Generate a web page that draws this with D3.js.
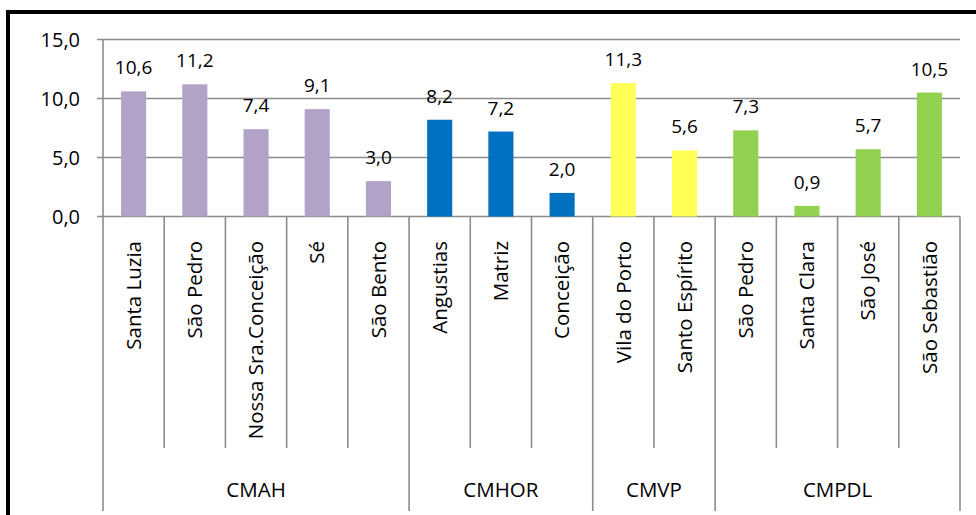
<!DOCTYPE html>
<html><head><meta charset="utf-8">
<script src="https://cdn.jsdelivr.net/npm/d3@7"></script>
<style>body{margin:0;background:#fff}svg{display:block}text{font-family:"Open Sans",sans-serif;fill:#000}</style>
</head><body>
<svg id="c" width="976" height="515"></svg>
<script>
const categories = ["Santa Luzia","São Pedro","Nossa Sra.Conceição","Sé","São Bento","Angustias","Matriz","Conceição","Vila do Porto","Santo Espírito","São Pedro","Santa Clara","São José","São Sebastião"];
const values = [10.6,11.2,7.4,9.1,3.0,8.2,7.2,2.0,11.3,5.6,7.3,0.9,5.7,10.5];
const groups = ["CMAH","CMHOR","CMVP","CMPDL"];
const groupSizes = [5,3,2,4];
const groupColors = ["#B3A2C7","#0070C0","#FFFF57","#92D050"];
const yTicks = [0,5,10,15];

const svg = d3.select("#c");
const L = 103, R = 960, T = 39.5, B = 216.5;
const fmt = v => d3.format(".1f")(v).replace(".", ",");
const grid = "#8c8c8c";

// frame
svg.append("rect").attr("x",8).attr("y",12).attr("width",1000).attr("height",600)
  .attr("fill","none").attr("stroke","#000").attr("stroke-width",4);

const idx = d3.range(categories.length);
const x = d3.scaleBand().domain(idx).range([L,R]).paddingInner(0.59).paddingOuter(0.295);
const xs = d3.scaleBand().domain(idx).range([L,R]);
const y = d3.scaleLinear().domain([0,15]).range([B,T]);

const groupOf = [];
groupSizes.forEach((n,g)=>{for(let i=0;i<n;i++) groupOf.push(g);});

// gridlines
svg.append("g").selectAll("line").data(yTicks).join("line")
  .attr("x1",L-6).attr("x2",R).attr("y1",d=>y(d)).attr("y2",d=>y(d))
  .attr("stroke",grid).attr("stroke-width",1.6);
svg.append("line").attr("x1",L).attr("x2",L).attr("y1",T).attr("y2",B).attr("stroke",grid).attr("stroke-width",1.6);
svg.append("g").selectAll("text").data(yTicks).join("text")
  .attr("x",80).attr("y",d=>y(d)).attr("dy","0.35em").attr("text-anchor","end")
  .attr("font-size",20).text(fmt);

// bars
svg.append("g").selectAll("rect").data(idx).join("rect")
  .attr("x",i=>x(i)).attr("width",x.bandwidth())
  .attr("y",i=>y(values[i])).attr("height",i=>B-y(values[i]))
  .attr("fill",i=>groupColors[groupOf[i]]);

// value labels
svg.append("g").selectAll("text").data(idx).join("text")
  .attr("x",i=>x(i)+x.bandwidth()/2).attr("y",i=>y(values[i])-17)
  .attr("text-anchor","middle").attr("font-size",19).text(i=>fmt(values[i]));

// category separators
const starts = [0]; groupSizes.forEach((n,g)=>starts.push(starts[g]+n));
const bounds = d3.range(categories.length+1);
svg.append("g").selectAll("line").data(bounds).join("line")
  .attr("x1",i=>i<categories.length?xs(i):R).attr("x2",i=>i<categories.length?xs(i):R)
  .attr("y1",B).attr("y2",i=>starts.includes(i)?511:448)
  .attr("stroke",grid).attr("stroke-width",1.6);

// category labels
svg.append("g").selectAll("text").data(idx).join("text")
  .attr("transform",i=>`translate(${xs(i)+xs.bandwidth()/2},241) rotate(-90)`)
  .attr("text-anchor","end").attr("dy","0.35em").attr("font-size",20.5).text(i=>categories[i]);

// group labels
svg.append("g").selectAll("text").data(groups).join("text")
  .attr("x",(g,k)=>(xs(starts[k]) + (starts[k+1]<categories.length?xs(starts[k+1]):R))/2)
  .attr("y",490).attr("dy","0.35em").attr("text-anchor","middle").attr("font-size",20.5).text(g=>g);
</script>
</body></html>
